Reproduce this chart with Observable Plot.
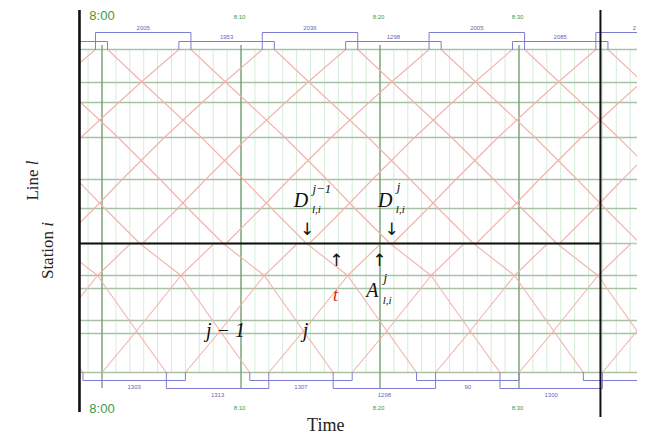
<!DOCTYPE html>
<html><head><meta charset="utf-8">
<script src="https://cdn.jsdelivr.net/npm/d3@7"></script>
<script src="https://cdn.jsdelivr.net/npm/@observablehq/plot@0.6"></script>
<style>body{margin:0;background:#fff}</style>
</head><body><div id="chart"></div>
<script>
// ---- data (time in minutes after 8:00, position in km from top terminal) ----
const stationKm = [0, 3.3, 5.3, 8.8, 13.0, 15.9, 19.4, 22.6, 23.9, 27.1, 28.4, 32.3];
const focusStationKm = [19.4];
// down trains: run time from top terminal at each station
const downRun = [0, 2.52, 4.07, 6.76, 9.79, 11.8, 14.32, 17.27, 17.93, 19.56, 20.22, 22.23];
// up trains: stations passed from bottom terminal (with dwell at station i) and run times
const upRunKm = [32.3, 28.4, 27.1, 23.9, 22.6, 19.4, 19.4, 15.9, 13.0, 8.8, 5.3, 3.3, 0];
const upRun   = [0, 2.34, 3.09, 4.94, 5.68, 8.06, 8.92, 11.44, 13.45, 16.48, 19.2, 20.79, 23.53];
const downDepartures = [-23.6, -17.6, -11.6, -5.6, 0.4, 6.4, 12.4, 18.4, 24.4, 30.4, 36.4];
const upDepartures   = [-24, -18, -12, -6, 0, 6, 12, 18, 24, 30, 36];
// turnarounds at top terminal
const topArr   = [-6.47, -0.47, 5.53, 11.53, 17.53, 23.53, 29.53, 35.53];
const topDep   = [0.4, 6.4, 12.4, 18.4, 24.4, 30.4, 36.4, 42.4];
const topLevel = [-0.8, -1.7, -0.8, -1.7, -0.8, -1.7, -0.8, -1.7];
const topLabel = ["", "2005", "1953", "2036", "1298", "2005", "2085", "2"];
// turnarounds at bottom terminal
const botArr   = [-1.37, 4.63, 10.63, 16.63, 22.63, 28.63, 34.63];
const botDep   = [6, 12, 18, 24, 30, 36, 42];
const botLevel = [33.1, 33.9, 33.1, 33.9, 33.1, 33.9, 33.1];
const botLabel = ["1303", "1313", "1307", "1298", "90", "1300", ""];
// time grid
const minuteTicks = d3.range(-1, 39);
const hourTicks = [0, 10, 20, 30];
const hourLabels = ["8:00", "8:10", "8:20", "8:30"];
const viewWindow = [-1.62, 35.86];

// ---- build tables ----
const trainRows = [];
downDepartures.forEach((d, k) => stationKm.forEach((s, i) => trainRows.push({train: "d" + k, t: d + downRun[i], km: s})));
upDepartures.forEach((d, k) => upRunKm.forEach((s, i) => trainRows.push({train: "u" + k, t: d + upRun[i], km: upRunKm[i]})));

const bracketRows = [];
topArr.forEach((a, k) => {
  const id = "t" + k;
  [[a, 0], [a, topLevel[k]], [topDep[k], topLevel[k]], [topDep[k], 0]].forEach(([t, km]) => bracketRows.push({id, t, km}));
});
botArr.forEach((a, k) => {
  const id = "b" + k;
  [[a, 32.3], [a, botLevel[k]], [botDep[k], botLevel[k]], [botDep[k], 32.3]].forEach(([t, km]) => bracketRows.push({id, t, km}));
});
const xMaxLabel = 38.3;
const topLabelRows = topArr.map((a, k) => ({t: Math.min((a + topDep[k]) / 2, xMaxLabel), km: topLevel[k] - 0.3, label: topLabel[k]}));
const botLabelRows = botArr.map((a, k) => ({t: Math.min((a + botDep[k]) / 2, xMaxLabel), km: botLevel[k] + 0.4, label: botLabel[k]}));

const serif = "Liberation Serif, Times New Roman, serif";
const sans = "Liberation Sans, Arial, sans-serif";
const green = "#3f9a3f";

// annotations
const bigText = [
  {t: 14.32, km: 15.1, s: "D"}, {t: 20.37, km: 15.1, s: "D"}, {t: 19.45, km: 24.1, s: "A"},
  {t: 14.64, km: 28.1, s: "j"}, {t: 8.88, km: 28.1, s: "j − 1"}
];
const supText = [
  {t: 15.14, km: 13.9, s: "j−1"}, {t: 21.2, km: 13.7, s: "j"}, {t: 20.25, km: 22.8, s: "j"}
];
const subText = [
  {t: 15.1, km: 16.0, s: "l,i"}, {t: 21.14, km: 16.0, s: "l,i"}, {t: 20.2, km: 25.1, s: "l,i"}
];
const arrows = [
  {t: 14.75, km: 18.0, s: "↓"}, {t: 20.83, km: 18.0, s: "↓"},
  {t: 16.87, km: 21.1, s: "↑"}, {t: 19.96, km: 21.1, s: "↑"}
];

const chart = Plot.plot({
  width: 645, height: 436,
  marginLeft: 79, marginRight: 8, marginTop: 0, marginBottom: 0,
  x: {domain: [-1.6187, 38.525], axis: null},
  y: {domain: [-4.9, 38.7], range: [0, 436], axis: null},
  style: {background: "#fff"},
  marks: [
    Plot.ruleX(minuteTicks, {y1: 0, y2: 32.3, stroke: "#d6ecd8", strokeWidth: 1, clip: true}),
    Plot.ruleY(stationKm, {stroke: "#a9c1a6", strokeWidth: 1.4, clip: true}),
    Plot.ruleX(hourTicks, {y1: -0.4, y2: 33.9, stroke: "#6f9c6f", strokeWidth: 1.3, clip: true}),
    Plot.line(trainRows, {x: "t", y: "km", z: "train", stroke: "#f3b2aa", strokeWidth: 1.1, clip: true}),
    Plot.line(bracketRows, {x: "t", y: "km", z: "id", stroke: "#7d7dd4", strokeWidth: 1, clip: true}),
    Plot.text(topLabelRows, {x: "t", y: "km", text: "label", fill: "#6666bb", fontSize: 6, fontFamily: sans, lineAnchor: "bottom"}),
    Plot.text(botLabelRows, {x: "t", y: "km", text: "label", fill: "#6666bb", fontSize: 6, fontFamily: sans, lineAnchor: "top"}),
    Plot.ruleY(focusStationKm, {x1: viewWindow[0], x2: viewWindow[1], stroke: "#111", strokeWidth: 2}),
    Plot.ruleX([viewWindow[0]], {y1: -3.9, y2: 36.3, stroke: "#111", strokeWidth: 2.6}),
    Plot.ruleX([viewWindow[1]], {y1: -3.9, y2: 36.8, stroke: "#111", strokeWidth: 2}),
    // time labels
    Plot.text([0], {x: d => d, y: -3.4, text: () => hourLabels[0], fill: green, fontSize: 13, fontFamily: sans}),
    Plot.text(hourTicks.slice(1), {x: d => d - 0.1, y: -3.2, text: (d, i) => hourLabels[i + 1], fill: green, fontSize: 6, fontFamily: sans}),
    Plot.text([0], {x: d => d, y: 35.9, text: () => hourLabels[0], fill: green, fontSize: 13, fontFamily: sans}),
    Plot.text(hourTicks.slice(1), {x: d => d - 0.1, y: 35.9, text: (d, i) => hourLabels[i + 1], fill: green, fontSize: 6, fontFamily: sans}),
    // math annotations
    Plot.text(bigText, {x: "t", y: "km", text: "s", fontSize: 20, fontStyle: "italic", fontFamily: serif, fill: "#111"}),
    Plot.text(supText, {x: "t", y: "km", text: "s", textAnchor: "start", fontSize: 13, fontStyle: "italic", fontFamily: serif, fill: "#111"}),
    Plot.text(subText, {x: "t", y: "km", text: "s", textAnchor: "start", fontSize: 11, fontStyle: "italic", fontFamily: serif, fill: "#111"}),
    Plot.text(arrows, {x: "t", y: "km", text: "s", fontSize: 17, fontFamily: "DejaVu Sans, sans-serif", fill: "#111"}),
    Plot.text([{t: 16.8, km: 24.6}], {x: "t", y: "km", text: () => "t", fontSize: 18, fontStyle: "italic", fontFamily: serif, fill: "#d22"}),
    // axis titles
    Plot.text([{t: -5.0, km: 13.1}], {x: "t", y: "km", text: () => "Line l", rotate: -90, fontSize: 17, fontFamily: serif, fill: "#222"}),
    Plot.text([{t: -3.9, km: 20.1}], {x: "t", y: "km", text: () => "Station i", rotate: -90, fontSize: 17, fontFamily: serif, fill: "#222"}),
    Plot.text([{t: 16.1, km: 37.6}], {x: "t", y: "km", text: () => "Time", fontSize: 18, fontFamily: serif, fill: "#222"})
  ]
});

d3.select(chart).selectAll("text").each(function() {
  const t = this.textContent;
  if (t === "Line l" || t === "Station i") {
    const a = t.slice(0, -1), b = t.slice(-1);
    this.textContent = "";
    d3.select(this).append("tspan").text(a);
    d3.select(this).append("tspan").attr("font-style", "italic").text(b);
  }
});
document.getElementById("chart").appendChild(chart);
</script>
</body></html>
